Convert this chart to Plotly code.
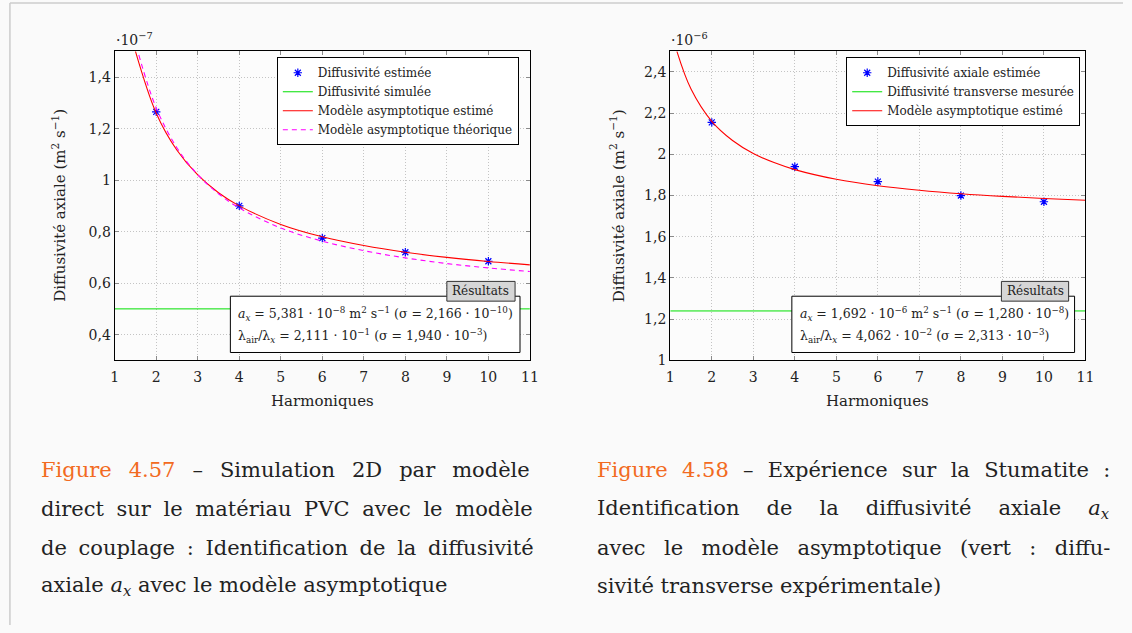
import plotly.graph_objects as go

W, H = 1132, 633
FONT = "DejaVu Serif"

# ---------------- data (values in units of 1e-7 left, 1e-6 right) ----------------
harm = [2, 4, 6, 8, 10]
left_est = [1.265, 0.900, 0.775, 0.720, 0.685]
left_sim = [0.50, 0.50]
left_sim_x = [1, 11]
left_model_x = [1.5, 2, 2.5, 3, 3.5, 4, 5, 6, 7, 8, 9, 10, 11]
left_model_y = [1.50, 1.26, 1.116, 1.02, 0.951, 0.90, 0.828, 0.78, 0.746, 0.72, 0.70, 0.684, 0.671]
left_theo_x = [1.58, 2, 2.5, 3, 3.5, 4, 5, 6, 7, 8, 9, 10, 11]
left_theo_y = [1.486, 1.28, 1.125, 1.021, 0.947, 0.892, 0.814, 0.763, 0.726, 0.698, 0.676, 0.659, 0.645]

right_est = [2.155, 1.940, 1.868, 1.800, 1.770]
right_meas = [1.24, 1.24]
right_meas_x = [1, 11]
right_model_x = [1.16, 1.5, 2, 2.5, 3, 3.5, 4, 5, 6, 7, 8, 9, 10, 11]
right_model_y = [2.50, 2.317, 2.16, 2.067, 2.004, 1.96, 1.926, 1.879, 1.848, 1.826, 1.809, 1.796, 1.786, 1.777]

x_ticks = [1, 2, 3, 4, 5, 6, 7, 8, 9, 10, 11]
left_yticks = [0.4, 0.6, 0.8, 1.0, 1.2, 1.4]
left_yticklabels = ["0,4", "0,6", "0,8", "1", "1,2", "1,4"]
right_yticks = [1.0, 1.2, 1.4, 1.6, 1.8, 2.0, 2.2, 2.4]
right_yticklabels = ["1", "1,2", "1,4", "1,6", "1,8", "2", "2,2", "2,4"]

# ---------------- geometry helpers (pixel -> paper) ----------------
def px(x):
    return x / W

def py(y):
    return 1 - y / H

L_X0, L_X1 = 112, 532
R_X0, R_X1 = 674, 1094
P_Y0, P_Y1 = 52, 365

fig = go.Figure()

star = dict(symbol="asterisk-open", size=7, color="#0000ff", line=dict(color="#0000ff", width=1.2))

# left chart traces
fig.add_trace(go.Scatter(x=harm, y=left_est, mode="markers", name="Diffusivité estimée",
                         marker=star, xaxis="x", yaxis="y", legend="legend"))
fig.add_trace(go.Scatter(x=left_sim_x, y=left_sim, mode="lines", name="Diffusivité simulée",
                         line=dict(color="#00e000", width=1), xaxis="x", yaxis="y", legend="legend"))
fig.add_trace(go.Scatter(x=left_model_x, y=left_model_y, mode="lines", name="Modèle asymptotique estimé",
                         line=dict(color="#ff0000", width=1.1, shape="spline"),
                         xaxis="x", yaxis="y", legend="legend"))
fig.add_trace(go.Scatter(x=left_theo_x, y=left_theo_y, mode="lines", name="Modèle asymptotique théorique",
                         line=dict(color="#ff00ff", width=1.1, dash="5px,4px", shape="spline"),
                         xaxis="x", yaxis="y", legend="legend"))

# right chart traces
fig.add_trace(go.Scatter(x=harm, y=right_est, mode="markers", name="Diffusivité axiale estimée",
                         marker=star, xaxis="x2", yaxis="y2", legend="legend2"))
fig.add_trace(go.Scatter(x=right_meas_x, y=right_meas, mode="lines", name="Diffusivité transverse mesurée",
                         line=dict(color="#00e000", width=1), xaxis="x2", yaxis="y2", legend="legend2"))
fig.add_trace(go.Scatter(x=right_model_x, y=right_model_y, mode="lines", name="Modèle asymptotique estimé",
                         line=dict(color="#ff0000", width=1.1, shape="spline"),
                         xaxis="x2", yaxis="y2", legend="legend2"))

axis_common = dict(showline=True, linecolor="black", linewidth=1.2, mirror="ticks",
                   ticks="inside", ticklen=4, tickcolor="#8a8a8a", tickwidth=1,
                   showgrid=True, gridcolor="#c4c4c4", griddash="1px,2px", gridwidth=1,
                   zeroline=False, tickfont=dict(family=FONT, size=14, color="#222"))

fig.update_layout(
    width=W, height=H,
    margin=dict(l=0, r=0, t=0, b=0),
    paper_bgcolor="#fafafa", plot_bgcolor="#fcfcfc",
    font=dict(family=FONT, color="#222"),
    xaxis=dict(domain=[px(L_X0), px(L_X1)], range=[1, 11], tickvals=x_ticks, anchor="y",
               ticklabelstandoff=4, **axis_common),
    yaxis=dict(domain=[py(P_Y1), py(P_Y0)], range=[0.3, 1.5], tickvals=left_yticks,
               ticktext=left_yticklabels, anchor="x", **axis_common),
    xaxis2=dict(domain=[px(R_X0), px(R_X1)], range=[1, 11], tickvals=x_ticks, anchor="y2",
                ticklabelstandoff=4, **axis_common),
    yaxis2=dict(domain=[py(P_Y1), py(P_Y0)], range=[1.0, 2.5], tickvals=right_yticks,
                ticktext=right_yticklabels, anchor="x2", **axis_common),
    legend=dict(x=px(276), y=py(58), xanchor="left", yanchor="top", bgcolor="white",
                bordercolor="black", borderwidth=1, font=dict(family=FONT, size=12, color="#222"),
                itemwidth=30, tracegroupgap=0),
    legend2=dict(x=px(852), y=py(58), xanchor="left", yanchor="top", bgcolor="white",
                 bordercolor="black", borderwidth=1, font=dict(family=FONT, size=12, color="#222"),
                 itemwidth=30, tracegroupgap=0),
    showlegend=True,
)

shapes = []
# page frame
shapes.append(dict(type="line", xref="paper", yref="paper", x0=px(6), x1=px(6), y0=py(3), y1=0,
                   line=dict(color="#cccccc", width=1.5)))
shapes.append(dict(type="line", xref="paper", yref="paper", x0=px(6), x1=1, y0=py(3), y1=py(3),
                   line=dict(color="#cccccc", width=1.5)))
# results boxes
for (bx0, bx1, tx0, tx1) in [(229, 522, 448, 517), (797, 1083, 1009, 1077)]:
    shapes.append(dict(type="rect", xref="paper", yref="paper", x0=px(bx0), x1=px(bx1),
                       y0=py(357), y1=py(300), fillcolor="white", line=dict(color="black", width=1),
                       layer="above"))
    shapes.append(dict(type="rect", xref="paper", yref="paper", x0=px(tx0), x1=px(tx1),
                       y0=py(305), y1=py(285), fillcolor="#d6d6d6", line=dict(color="#333", width=1),
                       layer="above"))
fig.update_layout(shapes=shapes)

ann = []
def text(x, y, s, size=13, xanchor="left", yanchor="middle", angle=0, color="#222"):
    ann.append(dict(x=px(x), y=py(y), xref="paper", yref="paper", text=s, showarrow=False,
                    xanchor=xanchor, yanchor=yanchor, textangle=angle,
                    font=dict(family=FONT, size=size, color=color)))

# axis titles / exponent labels
text(322, 406, "Harmoniques", size=15, xanchor="center")
text(884, 406, "Harmoniques", size=15, xanchor="center")
text(56, 208, "Diffusivité axiale (m<sup>2</sup> s<sup>−1</sup>)", size=15, xanchor="center", angle=-90)
text(621, 208, "Diffusivité axiale (m<sup>2</sup> s<sup>−1</sup>)", size=15, xanchor="center", angle=-90)
text(111, 40, "·10<sup>−7</sup>", size=14)
text(673, 40, "·10<sup>−6</sup>", size=14)

# results
text(482, 295, "Résultats", size=12, xanchor="center")
text(1043, 295, "Résultats", size=12, xanchor="center")
text(235, 318, "<i>a</i><sub><i>x</i></sub> = 5,381 · 10<sup>−8</sup> m<sup>2</sup> s<sup>−1</sup> (σ = 2,166 · 10<sup>−10</sup>)", size=12.5)
text(235, 340, "λ<sub>air</sub>/λ<sub><i>x</i></sub> = 2,111 · 10<sup>−1</sup> (σ = 1,940 · 10<sup>−3</sup>)", size=12.5)
text(803, 318, "<i>a</i><sub><i>x</i></sub> = 1,692 · 10<sup>−6</sup> m<sup>2</sup> s<sup>−1</sup> (σ = 1,280 · 10<sup>−8</sup>)", size=12.5)
text(803, 340, "λ<sub>air</sub>/λ<sub><i>x</i></sub> = 4,062 · 10<sup>−2</sup> (σ = 2,313 · 10<sup>−3</sup>)", size=12.5)

# captions (justified lines approximated via word spacing)
cap_left = [
    ("<span style='color:#f26a21'>Figure 4.57</span> – Simulation 2D par modèle", 10.3),
    ("direct sur le matériau PVC avec le modèle", 6),
    ("de couplage : Identification de la diffusivité", 5),
    ("axiale <i>a</i><sub><i>x</i></sub> avec le modèle asymptotique", 0),
]
cap_right = [
    ("<span style='color:#f26a21'>Figure 4.58</span> – Expérience sur la Stumatite :", 7.6),
    ("Identification de la diffusivité axiale <i>a</i><sub><i>x</i></sub>", 20.4),
    ("avec le modèle asymptotique (vert : diffu-", 11.7),
    ("sivité transverse expérimentale)", 0),
]
for i, (s, ws) in enumerate(cap_left):
    text(35, 476 + i * 39.3, f"<span style='word-spacing:{ws}px'>{s}</span>", size=21)
for i, (s, ws) in enumerate(cap_right):
    text(598, 476 + i * 39.3, f"<span style='word-spacing:{ws}px'>{s}</span>", size=21)

fig.update_layout(annotations=ann)
fig.write_html("out.html", config={"displayModeBar": False},
               post_script="document.body.style.margin='0';document.body.style.overflow='hidden';")
